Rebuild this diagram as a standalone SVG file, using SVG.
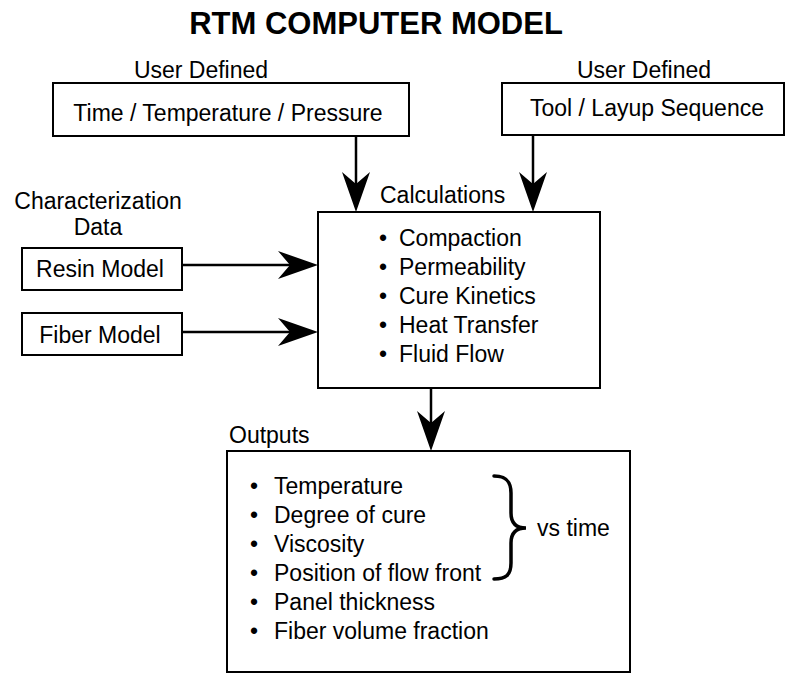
<svg xmlns="http://www.w3.org/2000/svg" width="787" height="675" viewBox="0 0 787 675">
  <style>
    text { font-family: "Liberation Sans", Arial, Helvetica, sans-serif; font-size: 23px; fill: #000; }
    .title { font-size: 31px; font-weight: bold; }
    .box { fill: #fff; stroke: #000; stroke-width: 2; }
    .conn { stroke: #000; stroke-width: 2.5; fill: none; marker-end: url(#head); }
    .brace { stroke: #000; stroke-width: 3.5; fill: none; stroke-linecap: round; }
  </style>
  <defs>
    <!-- barbed arrowhead; its tip sits 15px beyond the end of the line -->
    <marker id="head" viewBox="-26 -15 42 30" refX="0" refY="0" markerWidth="42" markerHeight="30" markerUnits="userSpaceOnUse" orient="auto">
      <path d="M15,0 L-25,-14 L-13,0 L-25,14 Z" fill="#000"/>
    </marker>
  </defs>

  <rect width="787" height="675" fill="#fff"/>

  <text class="title" x="376" y="34" text-anchor="middle">RTM COMPUTER MODEL</text>

  <g id="ttp">
    <text x="201" y="78" text-anchor="middle">User Defined</text>
    <rect class="box" x="53" y="83" width="356" height="53"/>
    <text x="228" y="121" text-anchor="middle">Time / Temperature / Pressure</text>
  </g>

  <g id="tool">
    <text x="644" y="78" text-anchor="middle">User Defined</text>
    <rect class="box" x="502" y="83" width="282" height="52"/>
    <text x="647" y="116" text-anchor="middle">Tool / Layup Sequence</text>
  </g>

  <g id="characterization">
    <text x="98" y="209" text-anchor="middle">Characterization</text>
    <text x="98" y="235" text-anchor="middle">Data</text>
  </g>

  <g id="resin">
    <rect class="box" x="22" y="248" width="160" height="42"/>
    <text x="100" y="277" text-anchor="middle">Resin Model</text>
  </g>

  <g id="fiber">
    <rect class="box" x="22" y="313" width="160" height="42"/>
    <text x="100" y="343" text-anchor="middle">Fiber Model</text>
  </g>

  <g id="calculations">
    <text x="380" y="203">Calculations</text>
    <rect class="box" x="318" y="212" width="282" height="176"/>
    <text y="246"><tspan x="379">•</tspan><tspan x="399">Compaction</tspan></text>
    <text y="275"><tspan x="379">•</tspan><tspan x="399">Permeability</tspan></text>
    <text y="304"><tspan x="379">•</tspan><tspan x="399">Cure Kinetics</tspan></text>
    <text y="333"><tspan x="379">•</tspan><tspan x="399">Heat Transfer</tspan></text>
    <text y="362"><tspan x="379">•</tspan><tspan x="399">Fluid Flow</tspan></text>
  </g>

  <g id="outputs">
    <text x="229" y="443">Outputs</text>
    <rect class="box" x="227" y="451" width="403" height="221"/>
    <text y="494"><tspan x="250">•</tspan><tspan x="274">Temperature</tspan></text>
    <text y="523"><tspan x="250">•</tspan><tspan x="274">Degree of cure</tspan></text>
    <text y="552"><tspan x="250">•</tspan><tspan x="274">Viscosity</tspan></text>
    <text y="581"><tspan x="250">•</tspan><tspan x="274">Position of flow front</tspan></text>
    <text y="610"><tspan x="250">•</tspan><tspan x="274">Panel thickness</tspan></text>
    <text y="639"><tspan x="250">•</tspan><tspan x="274">Fiber volume fraction</tspan></text>
    <path class="brace" d="M494,476 C506,476 511,481 511,493 L511,513 C511,523 516,528 526,528 C516,528 511,533 511,543 L511,563 C511,575 506,579 494,579"/>
    <text x="537" y="536">vs time</text>
  </g>

  <g id="connectors">
    <line class="conn" x1="356" y1="136" x2="356" y2="197"/>
    <line class="conn" x1="533" y1="135" x2="533" y2="197"/>
    <line class="conn" x1="182" y1="265" x2="303" y2="265"/>
    <line class="conn" x1="182" y1="332" x2="303" y2="332"/>
    <line class="conn" x1="431" y1="388" x2="431" y2="436"/>
  </g>
</svg>
